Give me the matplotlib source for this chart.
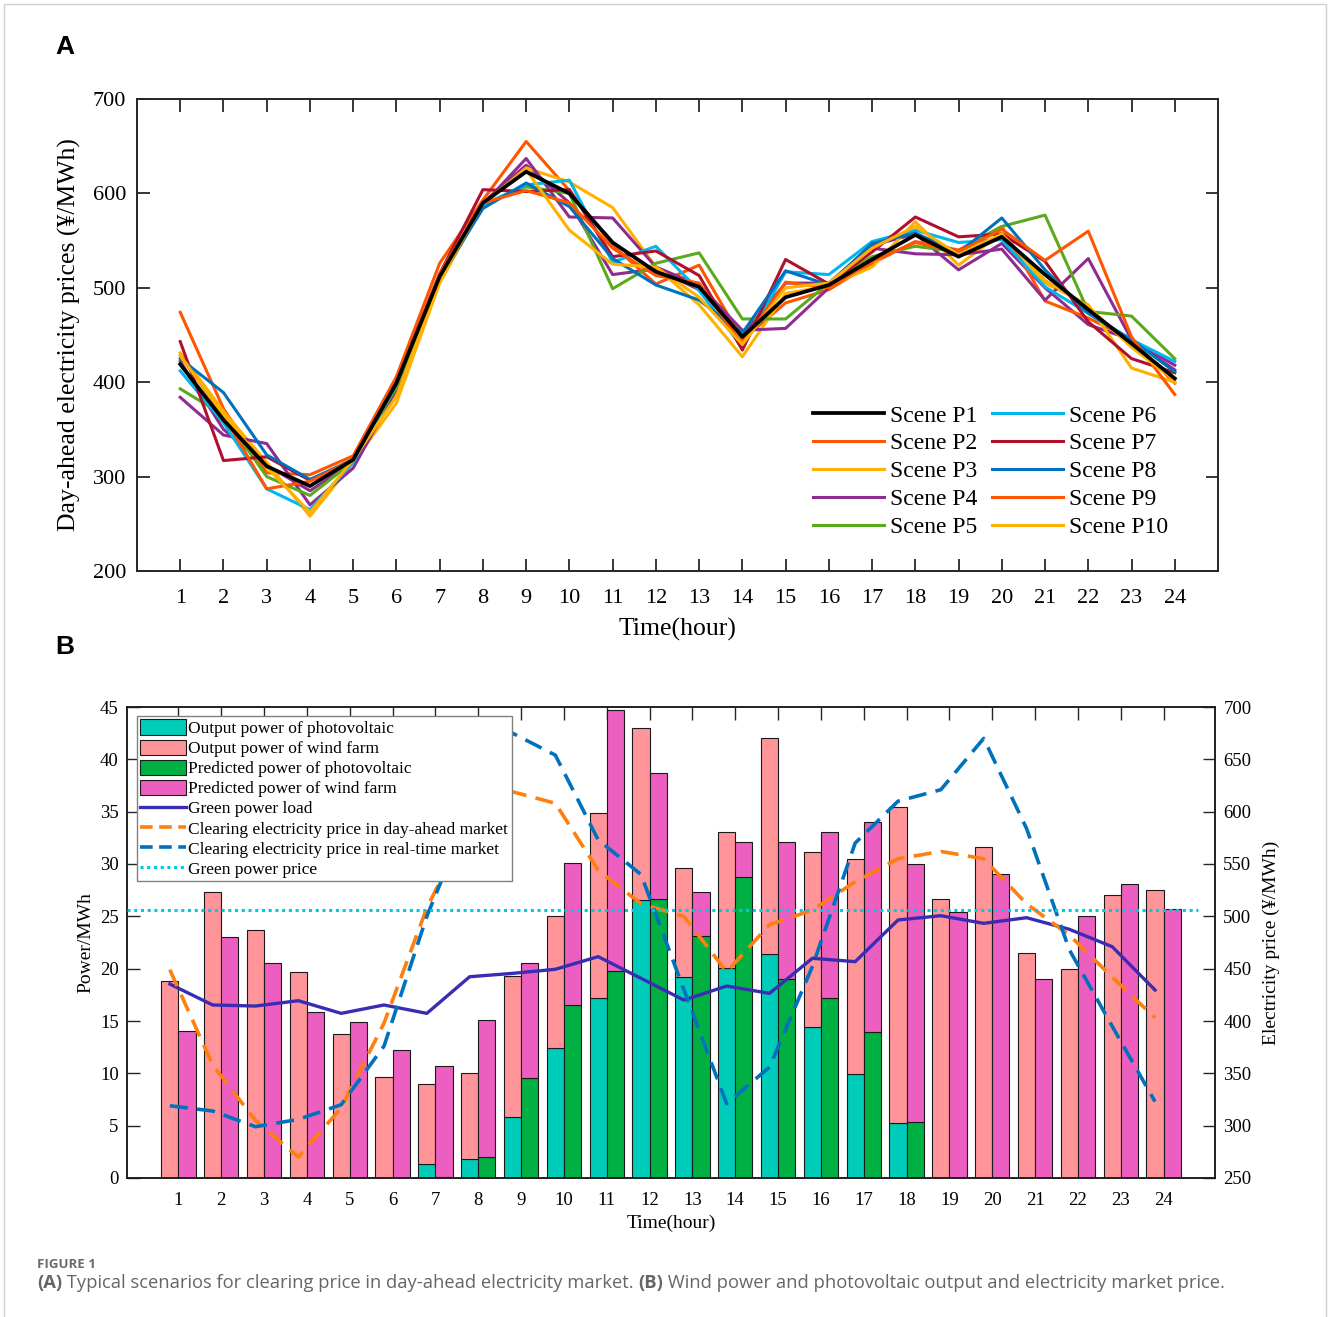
import numpy as np
import matplotlib
matplotlib.use("Agg")
import matplotlib.pyplot as plt
from matplotlib.patches import Patch, Rectangle
from matplotlib.lines import Line2D

# ---------------- data: panel A ----------------
hours = np.arange(1, 25)
scene_names = ["Scene P1", "Scene P2", "Scene P3", "Scene P4", "Scene P5",
               "Scene P6", "Scene P7", "Scene P8", "Scene P9", "Scene P10"]
P1 = [419, 360, 311, 290, 318, 399, 512, 590, 623, 600, 548, 517, 501, 448, 490, 503, 530, 556, 533, 554, 514, 477, 441, 404]
P2 = [474, 372, 304, 302, 322, 406, 526, 593, 655, 603, 545, 504, 524, 445, 484, 498, 526, 549, 540, 565, 486, 468, 445, 399]
P3 = [431, 369, 315, 258, 315, 378, 505, 588, 627, 612, 585, 522, 482, 427, 494, 502, 522, 570, 524, 558, 505, 482, 415, 400]
P4 = [384, 344, 335, 270, 309, 392, 510, 588, 637, 575, 574, 522, 503, 455, 457, 500, 542, 536, 535, 541, 487, 531, 445, 418]
P5 = [393, 365, 300, 280, 316, 395, 510, 588, 607, 600, 499, 526, 537, 467, 467, 505, 533, 544, 538, 565, 577, 475, 470, 425]
P6 = [412, 357, 287, 265, 315, 398, 512, 588, 609, 614, 527, 544, 497, 437, 517, 514, 549, 561, 548, 551, 501, 473, 445, 422]
P7 = [443, 317, 321, 296, 318, 400, 515, 604, 602, 604, 533, 539, 513, 434, 530, 504, 538, 575, 554, 557, 528, 464, 425, 410]
P8 = [425, 389, 323, 297, 318, 400, 510, 584, 611, 586, 531, 503, 487, 452, 518, 503, 547, 558, 537, 574, 519, 473, 445, 411]
P9 = [428, 365, 287, 295, 318, 400, 515, 590, 603, 590, 542, 513, 505, 440, 506, 500, 528, 548, 538, 562, 529, 560, 448, 387]
P10 = [428, 366, 310, 262, 318, 385, 508, 590, 625, 561, 525, 522, 490, 440, 500, 505, 542, 565, 535, 557, 508, 480, 437, 402]
P_extra = [422, 350, 312, 285, 315, 398, 512, 590, 630, 590, 514, 520, 498, 450, 505, 505, 545, 557, 519, 547, 500, 461, 445, 413]
scenes = [P1, P2, P3, P4, P5, P6, P7, P8, P9, P10]
scene_colors = ["#000000", "#FF5500", "#FFB000", "#8E2C90", "#5AAA1E",
                "#00B8EC", "#B0102E", "#0072BD", "#FF5500", "#FFB000"]

# ---------------- data: panel B ----------------
pv_out = [0, 0, 0, 0, 0, 0, 1.34, 1.78, 5.8, 12.39, 17.17, 26.56, 19.23, 20.03, 21.37, 14.46, 9.9, 5.22, 0, 0, 0, 0, 0, 0]
wind_out = [18.85, 27.36, 23.7, 19.7, 13.76, 9.62, 7.61, 8.22, 13.53, 12.67, 17.73, 16.40, 10.42, 13.03, 20.63, 16.72, 20.55, 30.26, 26.69, 31.65, 21.47, 19.97, 27.07, 27.55]
pv_pred = [0, 0, 0, 0, 0, 0, 0.1, 2.04, 9.59, 16.53, 19.78, 26.62, 23.15, 28.73, 19.01, 17.23, 13.92, 5.32, 0, 0, 0, 0, 0, 0]
wind_pred = [14.07, 23.06, 20.57, 15.83, 14.87, 12.2, 10.63, 13.06, 10.98, 13.6, 24.92, 12.04, 4.17, 3.34, 13.12, 15.8, 20.06, 24.65, 25.44, 29.04, 18.98, 25.06, 28.09, 25.73]
green_load = [18.53, 16.53, 16.43, 16.94, 15.73, 16.53, 15.73, 19.23, 19.55, 19.94, 21.15, 19.08, 17.0, 18.34, 17.64, 20.99, 20.67, 24.65, 25.06, 24.33, 24.87, 23.76, 22.1, 17.96]
da_price = [449, 358, 305, 270, 317, 398, 508, 590, 619, 608, 544, 512, 500, 447, 492, 506, 533, 555, 562, 555, 512, 482, 442, 403]
rt_price = [319, 314, 299, 306, 320, 376, 500, 600, 675, 654, 573, 540, 430, 321, 356, 452, 570, 610, 621, 670, 584, 468, 395, 323]
green_price = 506
legend_b = ["Output power of photovoltaic", "Output power of wind farm",
            "Predicted power of photovoltaic", "Predicted power of wind farm",
            "Green power load", "Clearing electricity price in day-ahead market",
            "Clearing electricity price in real-time market", "Green power price"]

SERIF = ["Liberation Serif", "DejaVu Serif"]
plt.rcParams["font.family"] = SERIF

W, H = 1328, 1317
fig = plt.figure(figsize=(W / 100, H / 100), dpi=100)
fig.patch.set_facecolor("white")

def fx(px):
    return px / W

def fy(py):
    return 1 - py / H

# border
fig.patches.append(Rectangle((fx(4), fy(1330)), fx(1322), (1330 - 4) / H,
                             transform=fig.transFigure, fill=False,
                             edgecolor="#cfcfcf", lw=1.0))

# ---------------- Panel A ----------------
axA = fig.add_axes([fx(137), fy(571), fx(1218 - 137), (571 - 99) / H])
handles = []
axA.plot(hours, P_extra, color="#8E2C90", lw=2.2, zorder=2)
for i, (s, c) in enumerate(zip(scenes, scene_colors)):
    lw = 2.7 if i == 0 else 2.2
    ln, = axA.plot(hours, s, color=c, lw=lw, label=scene_names[i], zorder=3 if i == 0 else 2)
    handles.append(ln)
axA.set_xlim(0, 25)
axA.set_ylim(200, 700)
axA.set_xticks(hours)
axA.set_yticks(np.arange(200, 701, 100))
axA.tick_params(direction="in", length=9, width=1.3, top=True, right=True,
                labelsize=16, colors="#262626", labelcolor="black")
axA.tick_params(axis="x", pad=13)
axA.tick_params(axis="y", pad=8)
for lab in axA.get_xticklabels() + axA.get_yticklabels():
    lab.set_family(SERIF)
for sp in axA.spines.values():
    sp.set_linewidth(1.4)
    sp.set_color("#262626")
axA.set_xlabel("Time(hour)", fontsize=18.5, labelpad=7, family=SERIF)
axA.set_ylabel("Day-ahead electricity prices (¥/MWh)", fontsize=18.5, labelpad=8, family=SERIF)
legA = axA.legend(handles=handles, ncol=2, loc="upper left",
                  bbox_to_anchor=(fx(813 - 137) / fx(1081), 1 - (405 - 99) / 472),
                  frameon=False, prop={"family": SERIF, "size": 17},
                  handlelength=3.0, handletextpad=0.25,
                  columnspacing=0.65, labelspacing=0.27, borderpad=0, borderaxespad=0)

fig.text(fx(55), fy(47), "A", fontsize=19, fontweight="bold",
         family=["Liberation Sans", "DejaVu Sans"], va="center", ha="left")
fig.text(fx(55), fy(647), "B", fontsize=19, fontweight="bold",
         family=["Liberation Sans", "DejaVu Sans"], va="center", ha="left")

# ---------------- Panel B ----------------
axB = fig.add_axes([fx(127), fy(1178), fx(1215 - 127), (1178 - 707) / H])
off = 0.2
bw = 0.4
c_pv_out, c_wind_out, c_pv_pred, c_wind_pred = "#00CDB9", "#FF9499", "#00B043", "#EC5EBF"
ec = "#1a1a1a"
axB.bar(hours - off, pv_out, bw, color=c_pv_out, edgecolor=ec, lw=0.8, zorder=2)
axB.bar(hours - off, wind_out, bw, bottom=pv_out, color=c_wind_out, edgecolor=ec, lw=0.8, zorder=2)
axB.bar(hours + off, pv_pred, bw, color=c_pv_pred, edgecolor=ec, lw=0.8, zorder=2)
axB.bar(hours + off, wind_pred, bw, bottom=pv_pred, color=c_wind_pred, edgecolor=ec, lw=0.8, zorder=2)
axB.plot(hours - off, green_load, color="#3A2DB3", lw=2.4, zorder=4)
axB.set_xlim(-0.2, 25.2)
axB.set_ylim(0, 45)
axB.set_xticks(hours)
axB.set_yticks(np.arange(0, 46, 5))
axB.tick_params(direction="in", length=9, width=1.0, top=True, labelsize=13.5,
                colors="#262626", labelcolor="black")
axB.tick_params(axis="x", pad=10)
axB.tick_params(axis="y", pad=6)
for lab in axB.get_xticklabels() + axB.get_yticklabels():
    lab.set_family(SERIF)
axB.set_xlabel("Time(hour)", fontsize=14, labelpad=4, family=SERIF)
axB.set_ylabel("Power/MWh", fontsize=14, labelpad=4, family=SERIF)

axB2 = axB.twinx()
axB2.set_ylim(250, 700)
axB2.set_yticks(np.arange(250, 701, 50))
axB2.tick_params(direction="in", length=9, width=1.0, labelsize=13.5,
                 colors="#262626", labelcolor="black", pad=6)
for lab in axB2.get_yticklabels():
    lab.set_family(SERIF)
axB2.plot(hours - off, da_price, color="#FF7F0E", lw=2.6, dashes=(5, 2.6), zorder=3)
axB2.plot(hours - off, rt_price, color="#0072BD", lw=2.6, dashes=(5, 2.6), zorder=3)
axB2.axhline(green_price, xmin=0, xmax=(24.8 + 0.2) / 25.4, color="#00C8E6",
             lw=2.2, linestyle=(0, (1, 1.2)), zorder=3)
axB2.set_ylabel("Electricity price (¥/MWh)", fontsize=14, labelpad=8, family=SERIF)
for ax in (axB, axB2):
    for sp in ax.spines.values():
        sp.set_linewidth(1.1)
        sp.set_color("#1a1a1a")

hB = [Patch(facecolor=c_pv_out, edgecolor=ec, lw=0.8),
      Patch(facecolor=c_wind_out, edgecolor=ec, lw=0.8),
      Patch(facecolor=c_pv_pred, edgecolor=ec, lw=0.8),
      Patch(facecolor=c_wind_pred, edgecolor=ec, lw=0.8),
      Line2D([], [], color="#3A2DB3", lw=2.4),
      Line2D([], [], color="#FF7F0E", lw=2.6, dashes=(3.5, 1.8)),
      Line2D([], [], color="#0072BD", lw=2.6, dashes=(3.5, 1.8)),
      Line2D([], [], color="#00C8E6", lw=2.2, linestyle=(0, (1, 1.2)))]
legB = axB2.legend(hB, legend_b, loc="upper left",
                   bbox_to_anchor=((137 - 127) / 1088, 1 - (716 - 707) / 471),
                   borderaxespad=0, prop={"family": SERIF, "size": 12.55},
                   handlelength=2.6, handleheight=0.95,
                   handletextpad=0.15, labelspacing=0.15, borderpad=0.2,
                   fancybox=False, framealpha=1, edgecolor="#808080")
legB.get_frame().set_linewidth(1.0)
legB.set_zorder(10)

# ---------------- caption ----------------
CAP = ["Open Sans", "DejaVu Sans"]
fig.text(fx(37), fy(1264), "FIGURE 1", fontsize=9.5, fontweight="bold", color="#6b6b6b",
         family=CAP, va="center", ha="left")
parts = [("(A)", "bold"), (" Typical scenarios for clearing price in day-ahead electricity market. ", "normal"),
         ("(B)", "bold"), (" Wind power and photovoltaic output and electricity market price.", "normal")]
fig.canvas.draw()
r = fig.canvas.get_renderer()
xcur = 37
for txt, wt in parts:
    t = fig.text(fx(xcur), fy(1283), txt, fontsize=13.25, fontweight=wt, color="#666666",
                 family=CAP, va="center", ha="left")
    bb = t.get_window_extent(renderer=r)
    xcur += bb.width

fig.savefig("out.png", dpi=100, facecolor="white")
